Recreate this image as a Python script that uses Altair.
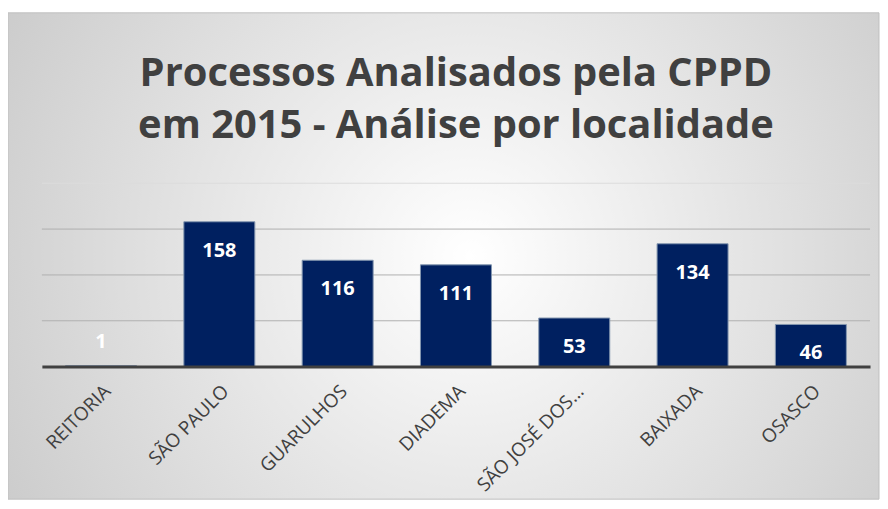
import altair as alt
import pandas as pd

categories = ["REITORIA", "SÃO PAULO", "GUARULHOS", "DIADEMA", "SÃO JOSÉ DOS…", "BAIXADA", "OSASCO"]
values = [1, 158, 116, 111, 53, 134, 46]
grid_values = [50, 100, 150, 200]
title_lines = ["Processos Analisados pela CPPD", "em 2015 - Análise por localidade"]

W, H = 831, 184
FONT = "Open Sans"

df = pd.DataFrame({"local": categories, "n": values})
yscale = alt.Scale(domain=[0, 200])

xenc = alt.X(
    "local:N",
    sort=categories,
    scale=alt.Scale(paddingInner=0.4, paddingOuter=0.2),
    axis=alt.Axis(
        title=None, labelAngle=-45, labelFont=FONT, labelFontSize=19,
        labelColor="#404040", ticks=False, domainColor="#404040",
        domainWidth=3, labelPadding=15, zindex=2,
    ),
)

gradient = alt.RadialGradient(
    gradient="radial",
    stops=[alt.GradientStop(offset=0, color="#ffffff"),
           alt.GradientStop(offset=1, color="#c2c2c2")],
    x1=0.53, y1=0.5, r1=0, x2=0.53, y2=0.5, r2=0.72,
)

bg = alt.Chart(pd.DataFrame({"k": [0]})).mark_rect(
    fill=gradient, stroke="#c0c0c0", strokeWidth=1
).encode(x=alt.value(-34), x2=alt.value(840), y=alt.value(-171), y2=alt.value(317))

grid = alt.Chart(pd.DataFrame({"g": grid_values})).mark_rule(strokeWidth=1).encode(
    y=alt.Y("g:Q", scale=yscale, axis=None),
    color=alt.condition("datum.g == 200", alt.value("#dcdcdc"), alt.value("#b0b0b0")),
)

bars = alt.Chart(df).mark_bar(
    color="#002060", stroke="#8497b0", strokeWidth=1
).encode(x=xenc, y=alt.Y("n:Q", scale=yscale, axis=None))

lab_in = alt.Chart(df).transform_filter("datum.n >= 20").mark_text(
    color="white", font=FONT, fontWeight="bold", fontSize=20, baseline="middle", dy=29
).encode(x=xenc, y=alt.Y("n:Q", scale=yscale, axis=None), text="n:Q")

lab_out = alt.Chart(df).transform_filter("datum.n < 20").mark_text(
    color="white", font=FONT, fontWeight="bold", fontSize=20, baseline="middle", dy=-24
).encode(x=xenc, y=alt.Y("n:Q", scale=yscale, axis=None), text="n:Q")

t1 = alt.Chart(pd.DataFrame({"k": [0]})).mark_text(
    text=title_lines[0], font=FONT, fontSize=40, fontWeight="bold", color="#404040",
    align="center", baseline="middle"
).encode(x=alt.value(W / 2), y=alt.value(-110))

t2 = alt.Chart(pd.DataFrame({"k": [0]})).mark_text(
    text=title_lines[1], font=FONT, fontSize=40, fontWeight="bold", color="#404040",
    align="center", baseline="middle"
).encode(x=alt.value(W / 2), y=alt.value(-57))

chart = alt.layer(bg, grid, bars, lab_in, lab_out, t1, t2).properties(
    width=W, height=H,
    autosize=alt.AutoSizeParams(type="none"),
    padding={"left": 34, "top": 175, "right": 10, "bottom": 135},
    background="white",
).configure_view(strokeWidth=0)

chart.save("out.html", embed_options={"renderer": "svg", "actions": False})
